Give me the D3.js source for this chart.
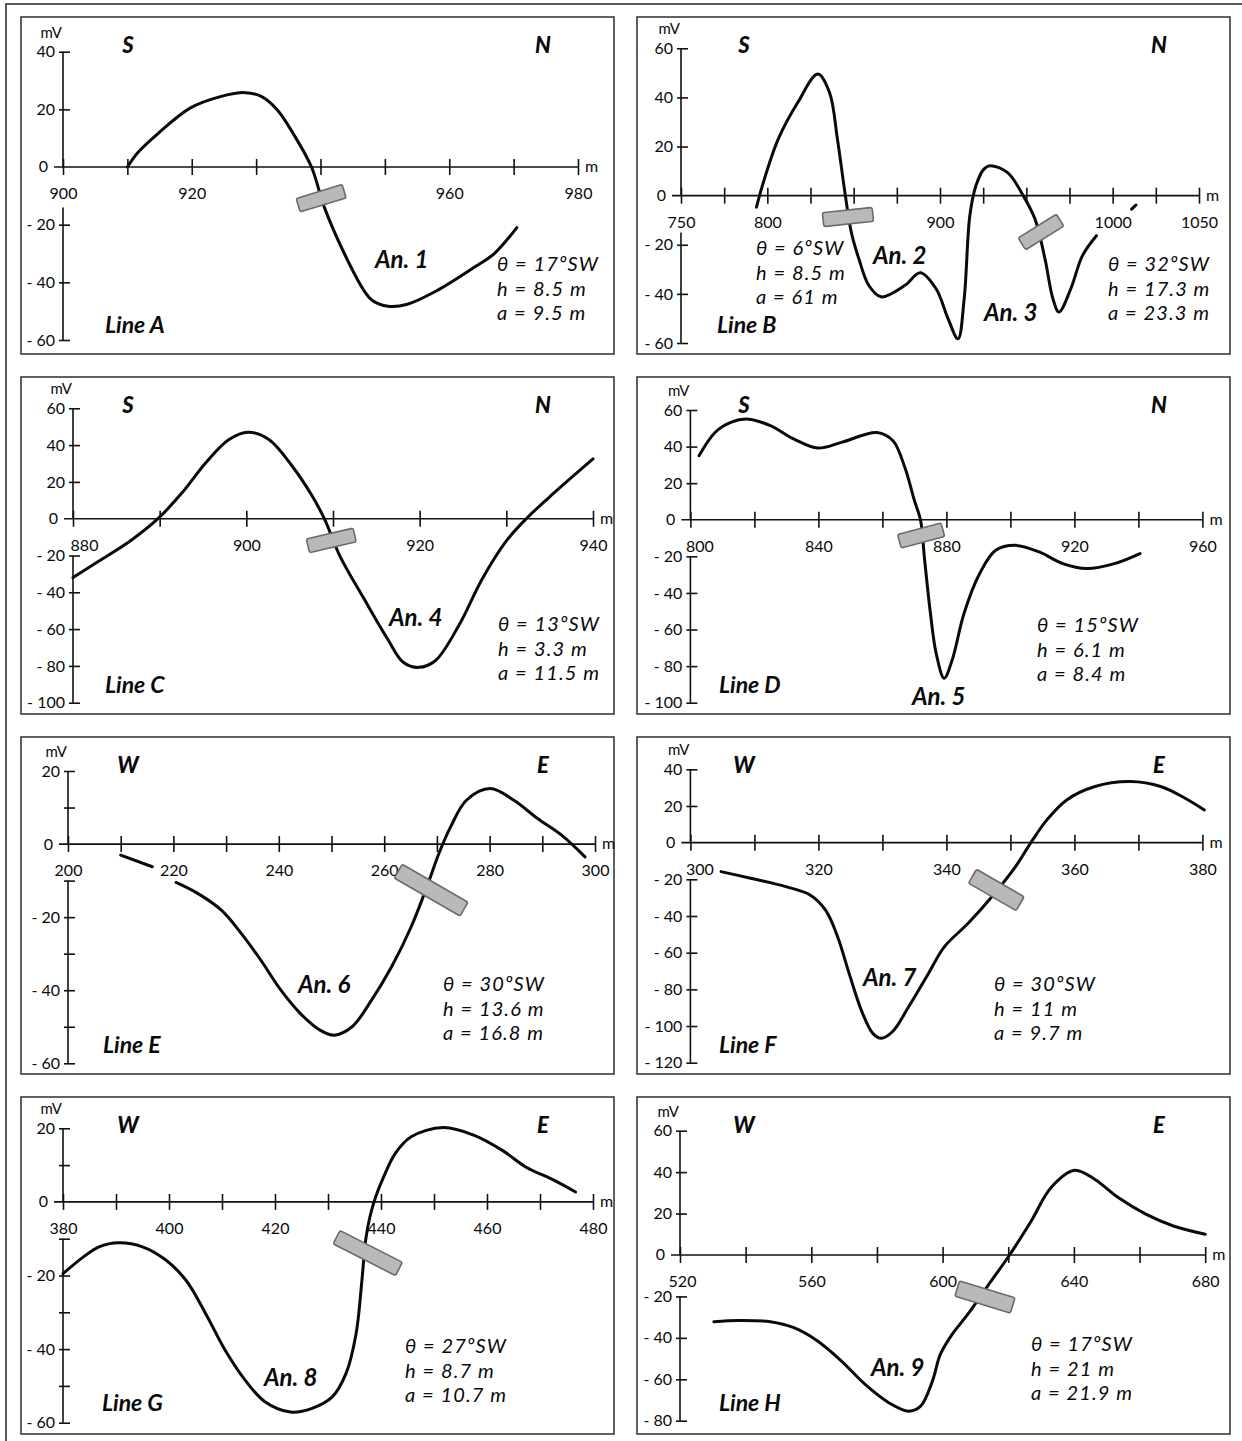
<!DOCTYPE html>
<html><head><meta charset="utf-8">
<script src="https://cdn.jsdelivr.net/npm/d3@7"></script>
<style>
html,body{margin:0;padding:0;background:#fff;}
svg{display:block;}
text{font-family:Lato,"Open Sans","DejaVu Sans",sans-serif;fill:#0a0a0a;}
</style></head><body>
<svg id="chart" width="1242" height="1441"></svg>
<script>
// ---------------- DATA ----------------
const lineA_m  = [910, 911.7, 914.8, 919.8, 924.6, 928.3, 930.8, 933.3, 935.7, 938.6, 940.6, 943.7, 946.8, 948, 950.5, 953.5, 957.9, 964, 967, 970.5];
const lineA_mV = [0, 5.2, 11.7, 20.5, 24.5, 25.8, 24.5, 19.8, 11.8, 0, -14, -30, -43, -46.2, -48.3, -47.6, -43.1, -34.6, -30, -21];

const lineB_m  = [793.7, 797.1, 806.3, 817.7, 829.2, 836, 840.6, 845.2, 848.6, 853, 858.8, 865.8, 879.5, 888.6, 897.8, 904.6, 910.4, 914, 917.3, 920.8, 925.4, 928.8, 939, 948.2, 955, 960.8, 965.4, 968.9, 975.7, 982.5, 990.6, null, 1011, 1013.5];
const lineB_mV = [-4.7, 4, 23, 38, 49.5, 42, 23, 0, -14.8, -25.7, -36.6, -41.2, -36.6, -31.4, -38, -50, -58.3, -42, -8, 4, 10.8, 12.2, 9.5, 0, -9.5, -25.7, -42, -47.4, -38, -24.4, -16.3, null, -5.5, -3.8];

const lineC_m  = [880, 883, 886.6, 889.8, 892.6, 895.3, 898, 900.2, 902.6, 905.3, 907.6, 909, 910.8, 913.6, 916.3, 918.1, 919.9, 921.8, 924.5, 927.2, 930, 932.3, 935.5, 940];
const lineC_mV = [-32, -23, -12.1, 0, 14.2, 30.3, 43, 47, 43, 28.5, 12.3, 0, -20.3, -43.7, -65.4, -78, -80.8, -77.2, -58.2, -32.9, -12.1, 0, 14, 32.5];

const lineD_m  = [802.7, 807.7, 812.6, 818.2, 825, 832.4, 839.8, 847.2, 858.3, 863.3, 867, 870, 871.9, 873.2, 875, 876.8, 879.3, 881.8, 885.5, 890.4, 895.4, 901.6, 909, 916.4, 923.8, 932.5, 940.5];
const lineD_mV = [35, 47.7, 53.2, 55, 51.4, 44.1, 39.2, 42.3, 47.7, 43.2, 28.7, 10.5, 0, -22, -51, -73, -86.6, -76.7, -51.2, -29.4, -16.7, -14, -17.6, -24, -26.7, -24, -18.5];

const lineE_m  = [210, 216, null, 220.5, 224.6, 229.1, 232.9, 236.6, 240.4, 244.1, 247.9, 250.5, 253.9, 257.6, 261.4, 265.1, 268.1, 270.4, 272.6, 275.6, 280.1, 284.6, 289.1, 293.6, 298.1];
const lineE_mV = [-3, -6.2, null, -10.5, -13.5, -18.1, -24.5, -31.8, -40, -46.4, -51, -52.3, -50, -42.7, -33.6, -22.7, -11.7, -2.5, 4.7, 12, 15.2, 12, 7, 2.5, -3.5];

const lineF_m  = [304.8, 309.4, 314.9, 318.7, 321.1, 323, 324.8, 326.7, 328.5, 329.8, 331.6, 334.1, 337.2, 339.7, 343.4, 347.1, 350.8, 353.2, 355.7, 358.8, 363.1, 368.7, 373.6, 377.3, 380.3];
const lineF_mV = [-15.8, -19.4, -24, -28.5, -36.7, -51.3, -71.3, -91.3, -104, -106.7, -103, -89.5, -71.3, -56.7, -44, -29.5, -13.1, 0, 12.4, 23.3, 30.5, 33.3, 30.5, 24.2, 17.8];

const lineG_m  = [380, 383.8, 386.8, 390.5, 395, 399.4, 403.2, 406.9, 410.6, 414.4, 418.1, 422.9, 427, 430.8, 433.4, 435.3, 436.4, 437.1, 437.9, 439, 440.5, 442.7, 445.7, 451.7, 457.6, 462.9, 467.3, 472.6, 476.7];
const lineG_mV = [-19.5, -15, -12.2, -11.1, -12.2, -15.8, -21.3, -30.3, -40.3, -48.5, -54.3, -57.1, -56.1, -53, -46.6, -35.8, -21.3, -10.4, -4.1, 1.4, 6.8, 13.2, 17.7, 20.2, 18.1, 14, 9.5, 5.9, 2.7];

const lineH_m  = [530.3, 537.9, 547.5, 554.7, 561.9, 569.2, 576.4, 583.6, 589.7, 593.3, 596.9, 599.3, 602.9, 607.7, 613.7, 620.4, 627, 633, 640.2, 646.3, 653.5, 661.9, 670.3, 680];
const lineH_mV = [-32.2, -31.6, -32.2, -35.1, -41.5, -51.2, -62.5, -71.3, -75.4, -73, -60.9, -48, -38.3, -28.6, -15, 0, 16.4, 32.5, 40.9, 36.6, 27.7, 19.7, 14, 10];

// axis domains, ticks and tick labels
const lineNames   = ['A','B','C','D','E','F','G','H'];
const directions  = [['S','N'],['S','N'],['S','N'],['S','N'],['W','E'],['W','E'],['W','E'],['W','E']];
const xDomains    = [[900,980],[750,1050],[880,940],[800,960],[200,300],[300,380],[380,480],[520,680]];
const yDomains    = [[40,-60],[60,-60],[60,-100],[60,-100],[20,-60],[40,-120],[20,-60],[60,-80]];
const xTickSteps  = [10, 25, 10, 20, 10, 10, 10, 20];
const xTickLabels = [
  [900,920,960,980],
  [750,800,900,1000,1050],
  [880,900,920,940],
  [800,840,880,920,960],
  [200,220,240,260,280,300],
  [300,320,340,360,380],
  [380,400,420,440,460,480],
  [520,560,600,640,680]
];
const yTickSteps  = [20, 20, 20, 20, 10, 20, 10, 20];
const yTickLabels = [
  [40,20,0,-20,-40,-60],
  [60,40,20,0,-20,-40,-60],
  [60,40,20,0,-20,-40,-60,-80,-100],
  [60,40,20,0,-20,-40,-60,-80,-100],
  [20,0,-20,-40,-60],
  [40,20,0,-20,-40,-60,-80,-100,-120],
  [20,0,-20,-40,-60],
  [60,40,20,0,-20,-40,-60,-80]
];

// anomalies: label, dip θ, depth h, half-width a, dike position (m, mV)
const anomalyLine  = ['A','B','B','C','D','E','F','G','H'];
const anomalyLabel = ['An. 1','An. 2','An. 3','An. 4','An. 5','An. 6','An. 7','An. 8','An. 9'];
const anomalyTheta = [17, 6, 32, 13, 15, 30, 30, 27, 17];
const anomalyH     = ['8.5','8.5','17.3','3.3','6.1','13.6','11','8.7','21'];
const anomalyA     = ['9.5','61','23.3','11.5','8.4','16.8','9.7','10.7','21.9'];
const dikeM        = [940.1, 846.7, 958.5, 909.8, 872.1, 268.9, 347.8, 437.5, 612.9];
const dikeMV       = [-10.8, -8.7, -14.8, -11.8, -8.6, -12.6, -25.8, -13.9, -20.3];

// ---------------- LAYOUT (pixels / styles) ----------------
const frames = [[21,17],[637,17],[21,377],[637,377],[21,737],[637,737],[21,1097],[637,1097]];
const frameW = 593, frameH = 337;
const xRanges = [[63,578],[681,1199],[73,593],[690.4,1202.4],[68,595],[690.4,1202.4],[63,593],[680,1205.2]];
const yRanges = [[51.7,340],[48.3,343],[408.3,702.7],[410,702.7],[771,1063.3],[769.3,1062.7],[1128.3,1422.7],[1130.7,1420.7]];
const yGapEnd = [-14, -15, -20, -20, -10, -20, -10, -20];
const firstLabelDx = [0, 0, 11, 9, 0, 9, 0, 2];
const lineLabelPos = [[105,325],[717,325],[105,685],[719,685],[103,1045],[719,1045],[102,1403],[719,1403]];
const anLabelPos   = [[375,260],[873,256],[984,313],[389,618],[912,697],[298,985],[863,978],[264,1378],[871,1368]];
const paramPos     = [[497,264],[756,248],[1108,264],[498,624],[1037,625],[443,984],[994,984],[405,1346],[1031,1344]];
const dikeSize     = [[48,14],[50,14],[45,14],[48,14],[45,14],[76,16],[55,16],[70,15],[58,16]];
const tickFont = 16;
const paramFont = 20, paramSpacing = 24.5;

const svg = d3.select('#chart');

// outer frame (top and left)
svg.append('path').attr('d','M6,1441 V4 H1242').attr('fill','none').attr('stroke','#222').attr('stroke-width',1.5);

const fmtY = d => d < 0 ? '- ' + Math.abs(d) : String(d);
const lineData = {A:[lineA_m,lineA_mV],B:[lineB_m,lineB_mV],C:[lineC_m,lineC_mV],D:[lineD_m,lineD_mV],
                  E:[lineE_m,lineE_mV],F:[lineF_m,lineF_mV],G:[lineG_m,lineG_mV],H:[lineH_m,lineH_mV]};

lineNames.forEach((name, i) => {
  const g = svg.append('g');
  const [fx, fy] = frames[i];
  g.append('rect').attr('x',fx).attr('y',fy).attr('width',frameW).attr('height',frameH)
    .attr('fill','none').attr('stroke','#3a3a3a').attr('stroke-width',1.6);

  const x = d3.scaleLinear().domain(xDomains[i]).range(xRanges[i]);
  const y = d3.scaleLinear().domain(yDomains[i]).range(yRanges[i]);
  const x0 = x(xDomains[i][0]), x1 = x(xDomains[i][1]);
  const y0 = y(0), yTop = y(yDomains[i][0]), yBot = y(yDomains[i][1]);

  const xTicks = d3.range(xDomains[i][0], xDomains[i][1] + 0.001, xTickSteps[i]);
  const yTicks = d3.range(yDomains[i][1], yDomains[i][0] + 0.001, yTickSteps[i]).filter(v => v !== 0);

  // x axis
  const xa = g.append('g').attr('transform',`translate(0,${y0})`)
    .call(d3.axisBottom(x).tickValues(xTicks).tickSize(8)
      .tickFormat(d => xTickLabels[i].includes(d) ? String(d) : ''));
  xa.select('.domain').remove();
  xa.selectAll('.tick line').attr('y1',-8).attr('y2',8).attr('stroke','#111').attr('stroke-width',1.6);
  xa.selectAll('.tick text').attr('y',21).attr('dy','0.71em')
    .attr('font-size',tickFont).attr('font-family','Lato').attr('fill','#0a0a0a')
    .attr('dx', d => d === xDomains[i][0] ? firstLabelDx[i] : 0);
  g.append('line').attr('x1',x0-9).attr('x2',x1).attr('y1',y0).attr('y2',y0)
    .attr('stroke','#111').attr('stroke-width',1.6);
  g.append('text').attr('x',x1+7).attr('y',y0+5).attr('font-size',tickFont).text('m');

  // y axis
  const ya = g.append('g').attr('transform',`translate(${x0},0)`)
    .call(d3.axisLeft(y).tickValues(yTicks).tickSize(4)
      .tickFormat(d => yTickLabels[i].includes(d) ? fmtY(d) : ''));
  ya.select('.domain').remove();
  ya.selectAll('.tick line').attr('x1',7).attr('x2',-4).attr('stroke','#111').attr('stroke-width',1.6);
  ya.selectAll('.tick text').attr('x',-8).attr('font-size',tickFont).attr('font-family','Lato').attr('fill','#0a0a0a');
  g.append('text').attr('x',x0-15).attr('y',y0).attr('dy','0.34em').attr('text-anchor','end')
    .attr('font-size',tickFont).text('0');
  g.append('line').attr('x1',x0).attr('x2',x0).attr('y1',yTop).attr('y2',y0).attr('stroke','#111').attr('stroke-width',1.6);
  g.append('line').attr('x1',x0).attr('x2',x0).attr('y1',y(yGapEnd[i])).attr('y2',yBot).attr('stroke','#111').attr('stroke-width',1.6);
  g.append('text').attr('x',x0-1).attr('y',yTop-14).attr('text-anchor','end').attr('font-size',15).text('mV');

  // direction labels
  g.append('text').attr('x',fx+107).attr('y',fy+36).attr('text-anchor','middle')
    .attr('font-size',22).attr('font-weight','900').attr('font-style','italic').text(directions[i][0]);
  g.append('text').attr('x',fx+522).attr('y',fy+36).attr('text-anchor','middle')
    .attr('font-size',22).attr('font-weight','900').attr('font-style','italic').text(directions[i][1]);

  // curve
  const [ms, vs] = lineData[name];
  const pts = ms.map((m, k) => ({m, v: vs[k]}));
  const line = d3.line().defined(d => d.m !== null).x(d => x(d.m)).y(d => y(d.v))
    .curve(d3.curveCatmullRom.alpha(0.5));
  g.append('path').attr('d', line(pts)).attr('fill','none').attr('stroke','#0a0a0a')
    .attr('stroke-width',3).attr('stroke-linecap','round').attr('stroke-linejoin','round');

  // line label
  g.append('text').attr('x',lineLabelPos[i][0]).attr('y',lineLabelPos[i][1]).attr('dy','0.35em')
    .attr('font-size',23).attr('font-weight','bold').attr('font-style','italic').text('Line ' + name);

  // anomalies
  anomalyLine.forEach((ln, k) => {
    if (ln !== name) return;
    const rot = directions[i][0] === 'S' ? -anomalyTheta[k] : anomalyTheta[k];
    const [L, W] = dikeSize[k];
    g.append('rect').attr('x',-L/2).attr('y',-W/2).attr('width',L).attr('height',W).attr('rx',2)
      .attr('transform',`translate(${x(dikeM[k])},${y(dikeMV[k])}) rotate(${rot})`)
      .attr('fill','#b9b9b9').attr('stroke','#6b6b6b').attr('stroke-width',1.6);
    g.append('text').attr('x',anLabelPos[k][0]).attr('y',anLabelPos[k][1]).attr('dy','0.35em')
      .attr('font-size',24).attr('font-weight','bold').attr('font-style','italic').text(anomalyLabel[k]);
    const lines = [`θ = ${anomalyTheta[k]}ºSW`, `h = ${anomalyH[k]} m`, `a = ${anomalyA[k]} m`];
    lines.forEach((t, j) => {
      g.append('text').attr('x',paramPos[k][0]).attr('y',paramPos[k][1] + j*paramSpacing).attr('dy','0.35em')
        .attr('font-size',paramFont).attr('letter-spacing',1.1).attr('font-style','italic').text(t);
    });
  });
});
</script>
</body></html>
